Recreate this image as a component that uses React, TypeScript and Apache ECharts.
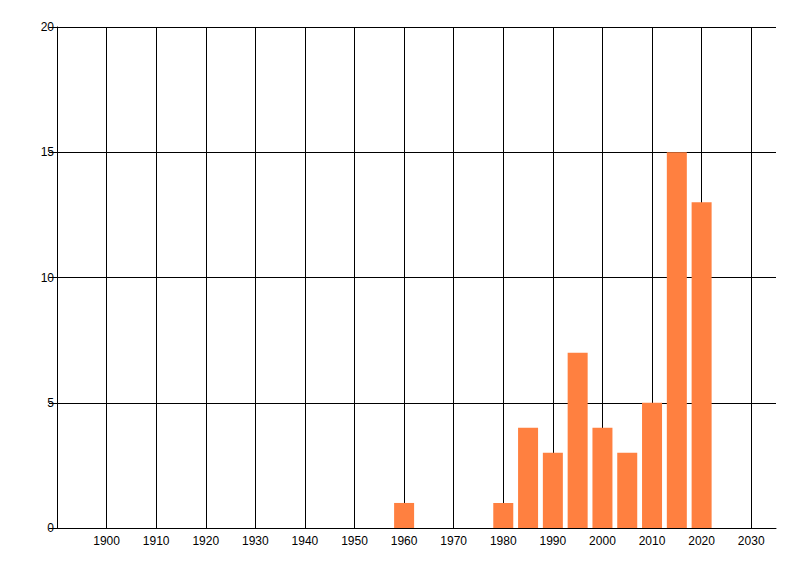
import React, { useEffect, useRef } from "react";
import * as echarts from "echarts";

const years = [1960, 1980, 1985, 1990, 1995, 2000, 2005, 2010, 2015, 2020];
const counts = [1, 1, 4, 3, 7, 4, 3, 5, 15, 13];
const xMin = 1890;
const xMax = 2035;
const yTicks = [0, 5, 10, 15, 20];

export default function App() {
  const ref = useRef<HTMLDivElement>(null);
  useEffect(() => {
    if (!ref.current) return;
    const chart = echarts.init(ref.current, undefined, { renderer: "svg" });
    const font = "Liberation Sans";
    chart.setOption({
      animation: false,
      backgroundColor: "#ffffff",
      grid: { left: 57, right: 24, top: 27, bottom: 48, containLabel: false },
      xAxis: {
        type: "value",
        min: xMin,
        max: xMax,
        interval: 10,
        axisLine: { show: true, lineStyle: { color: "#000", width: 1 } },
        axisTick: { show: false },
        axisLabel: {
          color: "#000",
          fontFamily: font,
          fontSize: 12,
          margin: 7,
          showMaxLabel: false,
          formatter: (v: number) => (v === xMin || v === xMax ? "" : String(v)),
        },
        splitLine: {
          show: true,
          showMinLine: true,
          showMaxLine: false,
          lineStyle: { color: "#000", width: 1 },
        },
      },
      yAxis: {
        type: "value",
        min: yTicks[0],
        max: yTicks[yTicks.length - 1],
        interval: 5,
        axisLine: { show: true, lineStyle: { color: "#000", width: 1 } },
        axisTick: { show: true, length: 8, lineStyle: { color: "#000" } },
        axisLabel: { color: "#000", fontFamily: font, fontSize: 12, margin: 3 },
        splitLine: { show: true, lineStyle: { color: "#000", width: 1 } },
      },
      series: [
        {
          type: "bar",
          data: years.map((y, i) => [y, counts[i]]),
          barWidth: 20,
          itemStyle: { color: "#ff8040" },
          z: 1,
        },
      ],
    });
    return () => chart.dispose();
  }, []);
  return (
    <div
      ref={ref}
      style={{ position: "fixed", left: 0, top: 0, width: 800, height: 576 }}
    />
  );
}
